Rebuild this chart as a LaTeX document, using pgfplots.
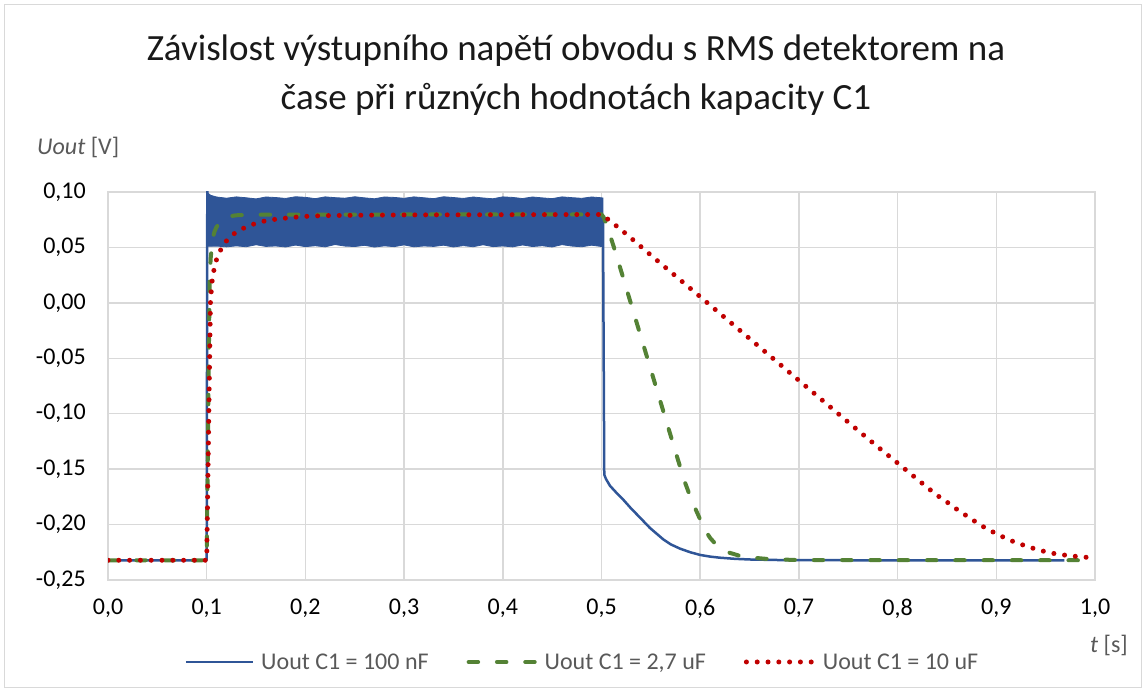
\documentclass[border=0pt]{standalone}
\usepackage{fontspec}
\setmainfont{Carlito}
\usepackage{pgfplots}
\pgfplotsset{compat=1.18}
\definecolor{cBlue}{HTML}{2F5597}
\definecolor{cGreen}{HTML}{548235}
\definecolor{cRed}{HTML}{C00000}
\definecolor{cGrid}{HTML}{D9D9D9}
\definecolor{cText}{HTML}{595959}
\begin{document}
\begin{tikzpicture}
\useasboundingbox (0pt,0pt) rectangle (1146pt,692pt);
\draw[cGrid, line width=1.5pt] (4.5pt,4.5pt) rectangle (1141.5pt,687.5pt);
\node[align=center, font=\fontsize{37}{49}\selectfont, text=black!90] at (576pt,617pt)
  {Závislost výstupního napětí obvodu s RMS detektorem na\\čase při různých hodnotách kapacity C1};
\begin{axis}[
  at={(108pt,112pt)}, anchor=south west,
  scale only axis, width=987pt, height=388pt,
  xmin=0, xmax=1, ymin=-0.25, ymax=0.10,
  xtick={0,0.1,0.2,0.3,0.4,0.5,0.6,0.7,0.8,0.9,1.0},
  ytick={-0.25,-0.2,-0.15,-0.1,-0.05,0,0.05,0.1},
  grid=major,
  major grid style={cGrid, line width=1.5pt},
  axis line style={cGrid, line width=1.5pt},
  major tick length=0pt,
  tick style={draw=none},
  /pgf/number format/assume math mode=true,
  xticklabel style={/pgf/number format/fixed, /pgf/number format/fixed zerofill, /pgf/number format/precision=1, /pgf/number format/use comma, inner sep=0pt, anchor=north, yshift=-19pt},
  yticklabel style={/pgf/number format/fixed, /pgf/number format/fixed zerofill, /pgf/number format/precision=2, /pgf/number format/use comma, inner sep=0pt, anchor=east, xshift=-22pt},
  ticklabel style={font=\fontsize{24}{28}\selectfont, text=black},
  xlabel={\textit{t} [s]},
  ylabel={\textit{Uout} [V]},
  every axis x label/.style={at={(axis description cs:1.0334,-0.188)}, anchor=base east, inner sep=0pt, font=\fontsize{24}{28}\selectfont, text=cText},
  every axis y label/.style={at={(axis description cs:-0.0719,1.0954)}, anchor=base west, inner sep=0pt, font=\fontsize{24}{28}\selectfont, text=cText},
  legend columns=3,
  legend style={at={(0.4807,-0.2113)}, anchor=center, draw=none, fill=none,
    font=\fontsize{24}{28}\selectfont, text=cText,
    /tikz/every even column/.append style={column sep=36pt}},
  legend image code/.code={\draw[#1] (0pt,0pt) -- (67pt,0pt); \path (72pt,0pt);},
]
\addplot[cBlue, line width=2.5pt, line join=round] coordinates {
(0,-0.2322) (0.1,-0.2322) (0.1006,0.105) (0.1012,0.075) (0.5015,0.075)
(0.5028,-0.155) (0.5046,-0.159) (0.5086,-0.165) (0.515,-0.1712) (0.522,-0.1775)
(0.530,-0.1855) (0.539,-0.1937) (0.549,-0.2030) (0.5625,-0.2133) (0.570,-0.2178)
(0.5795,-0.2217) (0.590,-0.2250) (0.600,-0.2274) (0.610,-0.2289) (0.620,-0.2299)
(0.635,-0.2309) (0.650,-0.2315) (0.680,-0.2320) (0.750,-0.2322) (0.969,-0.2322)
};
\addlegendentry{Uout C1 = 100 nF}
\addplot[cBlue, fill=cBlue, line width=0.8pt, forget plot] coordinates {
(0.1012,0.0990) (0.104,0.0970) (0.11,0.0955) (0.12,0.0944) (0.13,0.0956) (0.14,0.0948)
(0.15,0.0938) (0.16,0.0955) (0.17,0.0950) (0.18,0.0942) (0.19,0.0957) (0.20,0.0952)
(0.21,0.0940) (0.22,0.0956) (0.23,0.0949) (0.24,0.0944) (0.25,0.0957) (0.26,0.0947)
(0.27,0.0939) (0.28,0.0955) (0.29,0.0951) (0.30,0.0943) (0.31,0.0956) (0.32,0.0948)
(0.33,0.0940) (0.34,0.0957) (0.35,0.0950) (0.36,0.0942) (0.37,0.0955) (0.38,0.0946)
(0.39,0.0939) (0.40,0.0956) (0.41,0.0951) (0.42,0.0941) (0.43,0.0955) (0.44,0.0947)
(0.45,0.0940) (0.46,0.0956) (0.47,0.0949) (0.48,0.0943) (0.49,0.0955) (0.50,0.0948)
(0.5015,0.0945)
(0.5015,0.0515) (0.50,0.0508) (0.49,0.0520) (0.48,0.0506) (0.47,0.0512) (0.46,0.0525)
(0.45,0.0504) (0.44,0.0515) (0.43,0.0508) (0.42,0.0522) (0.41,0.0505) (0.40,0.0513)
(0.39,0.0507) (0.38,0.0524) (0.37,0.0506) (0.36,0.0516) (0.35,0.0504) (0.34,0.0520)
(0.33,0.0509) (0.32,0.0513) (0.31,0.0505) (0.30,0.0523) (0.29,0.0507) (0.28,0.0514)
(0.27,0.0503) (0.26,0.0519) (0.25,0.0508) (0.24,0.0512) (0.23,0.0526) (0.22,0.0505)
(0.21,0.0515) (0.20,0.0507) (0.19,0.0521) (0.18,0.0504) (0.17,0.0513) (0.16,0.0509)
(0.15,0.0524) (0.14,0.0506) (0.13,0.0514) (0.12,0.0505) (0.11,0.0512) (0.104,0.0510)
(0.1012,0.0510)
} --cycle;
\addplot[cGreen, line width=4pt, line cap=round, dash pattern=on 9.5pt off 18.8pt] coordinates {
(0,-0.2322) (0.1,-0.2322) (0.1025,-0.02) (0.103,0.02) (0.104,0.040) (0.106,0.058)
(0.108,0.0645) (0.110,0.0685) (0.115,0.0740) (0.120,0.0770) (0.125,0.0783) (0.130,0.0790)
(0.150,0.0795) (0.300,0.0797) (0.500,0.0797) (0.502,0.0775) (0.505,0.0710) (0.509,0.0600)
(0.5137,0.0470) (0.520,0.0284) (0.530,-0.0012) (0.540,-0.0308) (0.550,-0.0604)
(0.560,-0.0900) (0.570,-0.1196) (0.580,-0.1490) (0.585,-0.1630) (0.590,-0.1750)
(0.595,-0.1855) (0.600,-0.1955) (0.605,-0.2050) (0.610,-0.2120) (0.615,-0.2170)
(0.620,-0.2207) (0.630,-0.2255) (0.640,-0.2282) (0.650,-0.2296) (0.665,-0.2308)
(0.680,-0.2315) (0.700,-0.2320) (1.000,-0.2322)
};
\addlegendentry{Uout C1 = 2,7 uF}
\addplot[cRed, line width=5pt, line cap=round, dash pattern=on 0pt off 10.8pt] coordinates {
(0,-0.2322) (0.1,-0.2322) (0.1038,0.000) (0.105,0.015) (0.106,0.024) (0.1084,0.034)
(0.111,0.0424) (0.1158,0.0505) (0.121,0.0571) (0.128,0.0625) (0.1355,0.0665)
(0.1436,0.0700) (0.1523,0.0722) (0.1614,0.0745) (0.171,0.0755) (0.180,0.0764)
(0.190,0.0773) (0.200,0.0780) (0.220,0.0787) (0.250,0.0790) (0.300,0.0793)
(0.400,0.0795) (0.500,0.0797) (0.5086,0.0740) (0.5170,0.0680) (0.5256,0.0617)
(0.550,0.0430) (0.600,0.0055) (0.650,-0.0322) (0.700,-0.0700) (0.750,-0.1077)
(0.780,-0.1300) (0.800,-0.1445) (0.815,-0.1555) (0.830,-0.1665) (0.840,-0.1736)
(0.850,-0.1797) (0.860,-0.1862) (0.8757,-0.1956) (0.885,-0.2010) (0.894,-0.2055)
(0.904,-0.2100) (0.914,-0.2142) (0.924,-0.2175) (0.934,-0.2205) (0.944,-0.2232)
(0.955,-0.2256) (0.9655,-0.2271) (0.976,-0.2283) (0.987,-0.2292) (1.000,-0.2302)
};
\addlegendentry{Uout C1 = 10 uF}
\end{axis}
\end{tikzpicture}
\end{document}
